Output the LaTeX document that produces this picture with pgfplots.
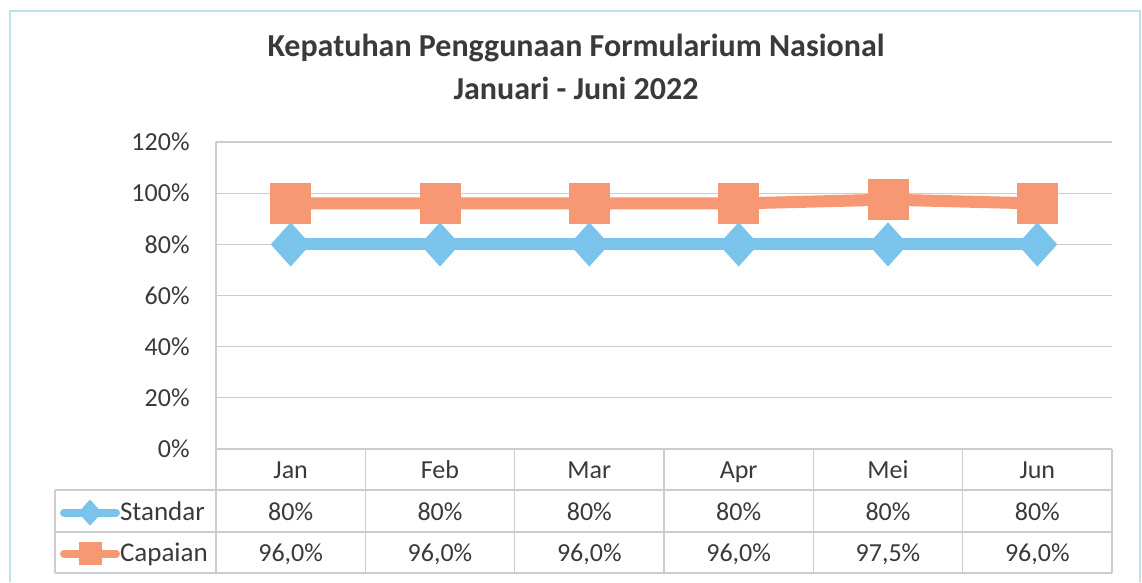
\documentclass[border=0pt]{standalone}
\usepackage{fontspec}
\setmainfont{Carlito}
\usepackage{pgfplots}
\pgfplotsset{compat=1.18}
\definecolor{txt}{RGB}{58,58,58}
\definecolor{orangeC}{RGB}{246,152,116}
\definecolor{blueS}{RGB}{122,196,236}
\definecolor{gridc}{RGB}{205,205,205}
\definecolor{framec}{RGB}{190,225,242}
\pgfdeclareplotmark{rsquare*}{%
  \pgfsetcornersarced{\pgfpoint{0.45\pgfplotmarksize}{0.45\pgfplotmarksize}}%
  \pgfpathmoveto{\pgfqpoint{0pt}{-\pgfplotmarksize}}%
  \pgfpathlineto{\pgfqpoint{\pgfplotmarksize}{-\pgfplotmarksize}}%
  \pgfpathlineto{\pgfqpoint{\pgfplotmarksize}{\pgfplotmarksize}}%
  \pgfpathlineto{\pgfqpoint{-\pgfplotmarksize}{\pgfplotmarksize}}%
  \pgfpathlineto{\pgfqpoint{-\pgfplotmarksize}{-\pgfplotmarksize}}%
  \pgfpathclose
  \pgfusepathqfillstroke}
\begin{document}
\begin{tikzpicture}
\begin{axis}[
  scale only axis, width=448pt, height=153.5pt,
  xmin=-0.5, xmax=5.5, ymin=0, ymax=1.2,
  clip=false,
  axis line style={draw=none},
  major tick length=0pt,
  ytick={0,0.2,0.4,0.6,0.8,1.0,1.2},
  yticklabels={0\%,20\%,40\%,60\%,80\%,100\%,120\%},
  xtick={0,1,2,3,4,5},
  xticklabels={Jan,Feb,Mar,Apr,Mei,Jun},
  ymajorgrids, grid style={gridc, line width=0.6pt},
  tick label style={font=\fontsize{13}{15}\selectfont, text=txt},
  yticklabel style={anchor=east, inner sep=0pt, xshift=-13pt},
  xticklabel style={anchor=base, inner sep=0pt, yshift=-14.7pt},
  legend style={at={(axis cs:-1.578,-0.1603)}, anchor=north west, xshift=2.5pt, yshift=-1pt,
    draw=none, fill=none, inner sep=0pt, outer sep=0pt, row sep=0pt,
    font=\fontsize{13.5}{15}\selectfont, text=txt,
    nodes={inner sep=0pt, minimum height=20.5pt},
    /tikz/every even column/.append style={column sep=-1pt}},
  legend cell align=left,
  legend image code/.code={\draw[mark repeat=2,mark phase=2,#1] plot coordinates {(2pt,0pt)(15pt,0pt)(28pt,0pt)};},
]
% outer chart frame and bounding box
\path (axis cs:-1.9465,1.7553) rectangle (axis cs:5.701,-0.520);
\draw[framec, line width=0.7pt] (axis cs:-1.879,-0.52) -- (axis cs:-1.879,1.712) -- (axis cs:5.687,1.712) -- (axis cs:5.687,-0.52);
% title
\node[font=\fontsize{16}{19}\selectfont\bfseries, text=txt] at (axis cs:1.911,1.5676) {Kepatuhan Penggunaan Formularium Nasional};
\node[font=\fontsize{16}{19}\selectfont\bfseries, text=txt] at (axis cs:1.911,1.4113) {Januari - Juni 2022};
% data table lines
\draw[gridc, line width=0.6pt] (axis cs:-0.5,1.2) -- (axis cs:-0.5,-0.4848);
\draw[gridc, line width=0.6pt] (axis cs:-1.578,-0.1603) -- (axis cs:5.5,-0.1603);
\draw[gridc, line width=0.6pt] (axis cs:-1.578,-0.3245) -- (axis cs:5.5,-0.3245);
\draw[gridc, line width=0.6pt] (axis cs:-1.578,-0.4848) -- (axis cs:5.5,-0.4848);
\draw[gridc, line width=0.6pt] (axis cs:-1.578,-0.1603) -- (axis cs:-1.578,-0.4848);
\draw[gridc, line width=0.6pt] (axis cs:0.5,0) -- (axis cs:0.5,-0.4848);
\draw[gridc, line width=0.6pt] (axis cs:1.5,0) -- (axis cs:1.5,-0.4848);
\draw[gridc, line width=0.6pt] (axis cs:2.5,0) -- (axis cs:2.5,-0.4848);
\draw[gridc, line width=0.6pt] (axis cs:3.5,0) -- (axis cs:3.5,-0.4848);
\draw[gridc, line width=0.6pt] (axis cs:4.5,0) -- (axis cs:4.5,-0.4848);
\draw[gridc, line width=0.6pt] (axis cs:5.5,0) -- (axis cs:5.5,-0.4848);
% table values
\begin{scope}[every node/.style={font=\fontsize{13}{15}\selectfont, text=txt, anchor=base, inner sep=0pt}]
\node at (axis cs:0,-0.2791) {80\%};
\node at (axis cs:1,-0.2791) {80\%};
\node at (axis cs:2,-0.2791) {80\%};
\node at (axis cs:3,-0.2791) {80\%};
\node at (axis cs:4,-0.2791) {80\%};
\node at (axis cs:5,-0.2791) {80\%};
\node at (axis cs:0,-0.4394) {96,0\%};
\node at (axis cs:1,-0.4394) {96,0\%};
\node at (axis cs:2,-0.4394) {96,0\%};
\node at (axis cs:3,-0.4394) {96,0\%};
\node at (axis cs:4,-0.4394) {97,5\%};
\node at (axis cs:5,-0.4394) {96,0\%};
\end{scope}
\addplot[blueS, line width=6pt, line join=round, line cap=round,
  mark=diamond*, mark size=10.75pt, mark options={solid, line width=0.4pt, xscale=1.2},
  legend image post style={line width=4pt, mark size=6.25pt}]
  coordinates {(0,0.80) (1,0.80) (2,0.80) (3,0.80) (4,0.80) (5,0.80)};
\addlegendentry{Standar}
\addplot[orangeC, line width=6pt, line join=round, line cap=round,
  mark=rsquare*, mark size=10pt, mark options={solid, line width=0.4pt},
  legend image post style={line width=4pt, mark size=5.5pt}]
  coordinates {(0,0.960) (1,0.960) (2,0.960) (3,0.960) (4,0.975) (5,0.960)};
\addlegendentry{Capaian}
\end{axis}
\end{tikzpicture}
\end{document}
